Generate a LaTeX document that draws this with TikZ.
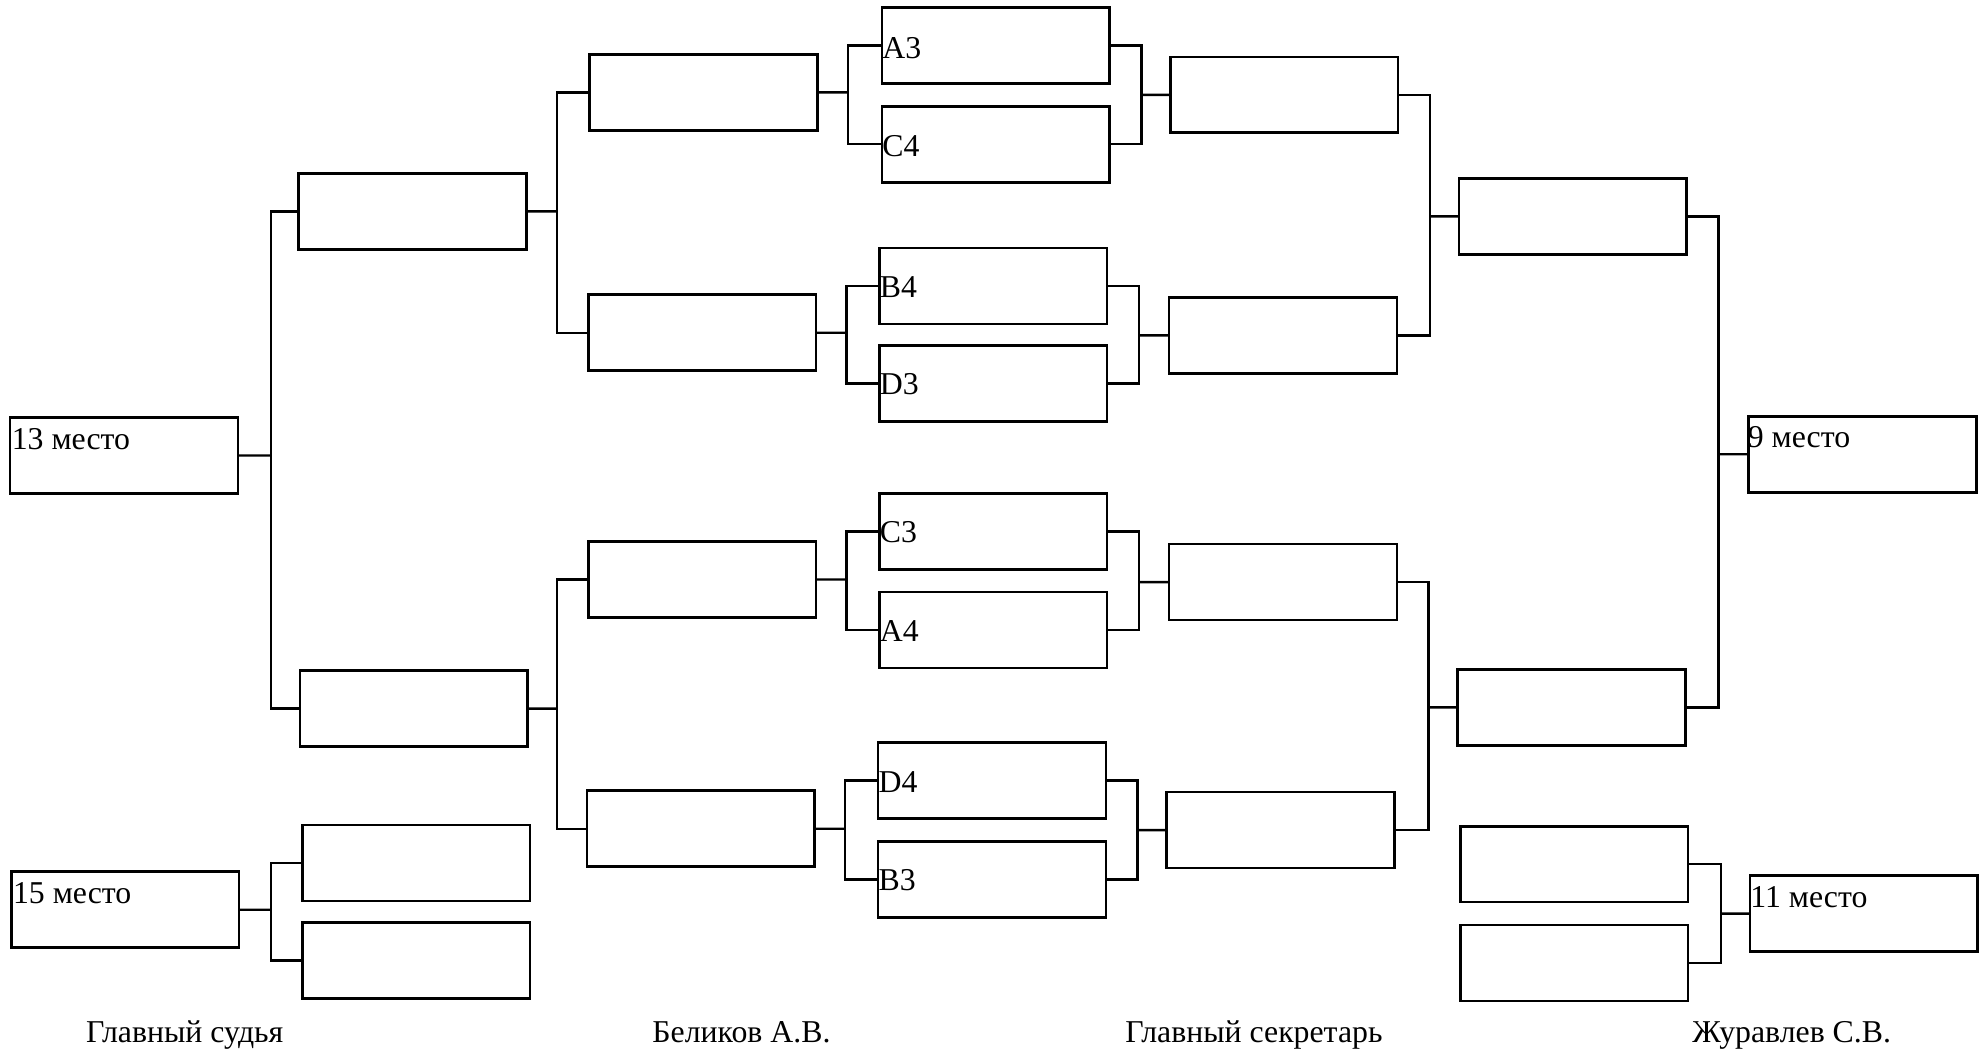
\documentclass[tikz,border=0pt]{standalone}
\usepackage{fontspec}
\setmainfont{Liberation Serif}
\begin{document}
\begin{tikzpicture}[x=0.02cm,y=-0.02cm,
 box/.style={draw,line width=1.2pt,rectangle,inner sep=0pt,outer sep=0pt,minimum width=3.6cm,minimum height=1.2cm,anchor=north west},
 con/.style={line width=1.1pt},
 lbl/.style={font=\fontsize{14.3}{16}\selectfont,inner sep=0pt,anchor=base west},
 sig/.style={font=\fontsize{14.3}{16}\selectfont,inner sep=0pt,anchor=base}]
\useasboundingbox (0,0) rectangle (1568,830);
% boxes
\node[box] (m13) at (8,330) {};
\node[box] (L2a) at (236,137) {};
\node[box] (L2b) at (237,530) {};
\node[box] (L3a) at (466,43) {};
\node[box] (L3b) at (465,233) {};
\node[box] (L3c) at (465,428) {};
\node[box] (L3d) at (464,625) {};
\node[box] (A3) at (697,6) {};
\node[box] (C4) at (697,84) {};
\node[box] (B4) at (695,196) {};
\node[box] (D3) at (695,273) {};
\node[box] (C3) at (695,390) {};
\node[box] (A4) at (695,468) {};
\node[box] (D4) at (694,587) {};
\node[box] (B3) at (694,665) {};
\node[box] (R3a) at (925,45) {};
\node[box] (R3b) at (924,235) {};
\node[box] (R3c) at (924,430) {};
\node[box] (R3d) at (922,626) {};
\node[box] (R2a) at (1153,141) {};
\node[box] (R2b) at (1152,529) {};
\node[box] (m9) at (1382,329) {};
\node[box] (R5a) at (1154,653) {};
\node[box] (R5b) at (1154,731) {};
\node[box] (m11) at (1383,692) {};
\node[box] (m15) at (9,689) {};
\node[box] (L5a) at (239,652) {};
\node[box] (L5b) at (239,729) {};
% labels in boxes
\node[lbl] (t13) at ([shift={(1,25)}]m13.north west) {13 место};
\node[lbl] (t15) at ([shift={(1,25)}]m15.north west) {15 место};
\node[lbl] (t9) at ([shift={(-1,25)}]m9.north west) {9 место};
\node[lbl] (t11) at ([shift={(0,25)}]m11.north west) {11 место};
\node[lbl] (tA3) at ([shift={(0,40)}]A3.north west) {A3};
\node[lbl] (tC4) at ([shift={(0,40)}]C4.north west) {C4};
\node[lbl] (tB4) at ([shift={(0,39)}]B4.north west) {B4};
\node[lbl] (tD3) at ([shift={(0,39)}]D3.north west) {D3};
\node[lbl] (tC3) at ([shift={(0,39)}]C3.north west) {C3};
\node[lbl] (tA4) at ([shift={(0,39)}]A4.north west) {A4};
\node[lbl] (tD4) at ([shift={(0,39)}]D4.north west) {D4};
\node[lbl] (tB3) at ([shift={(0,39)}]B3.north west) {B3};
% signatures
\node[sig] (s1) at (146,824) {Главный судья};
\node[sig] (s2) at (586,824) {Беликов А.В.};
\node[sig] (s3) at (991,824) {Главный секретарь};
\node[sig] (s4) at (1416,824) {Журавлев С.В.};
% junctions
\coordinate (j1) at (214,360);
\coordinate (j2) at (440,167);
\coordinate (j3) at (440,560);
\coordinate (j4) at (670,73);
\coordinate (j5) at (669,263);
\coordinate (j6) at (669,458);
\coordinate (j7) at (668,655);
\coordinate (j8) at (902,75);
\coordinate (j9) at (900,265);
\coordinate (j10) at (900,460);
\coordinate (j11) at (899,656);
\coordinate (j12) at (1130,171);
\coordinate (j13) at (1129,559);
\coordinate (j14) at (1358,359);
\coordinate (j15) at (1360,722);
\coordinate (j16) at (214,719);
% connectors
\draw[con] (L2a.west) -| (j1) |- (L2b.west);
\draw[con] (m13.east) -- (j1);
\draw[con] (L3a.west) -| (j2) |- (L3b.west);
\draw[con] (L2a.east) -- (j2);
\draw[con] (L3c.west) -| (j3) |- (L3d.west);
\draw[con] (L2b.east) -- (j3);
\draw[con] (A3.west) -| (j4) |- (C4.west);
\draw[con] (L3a.east) -- (j4);
\draw[con] (B4.west) -| (j5) |- (D3.west);
\draw[con] (L3b.east) -- (j5);
\draw[con] (C3.west) -| (j6) |- (A4.west);
\draw[con] (L3c.east) -- (j6);
\draw[con] (D4.west) -| (j7) |- (B3.west);
\draw[con] (L3d.east) -- (j7);
\draw[con] (A3.east) -| (j8) |- (C4.east);
\draw[con] (R3a.west) -- (j8);
\draw[con] (B4.east) -| (j9) |- (D3.east);
\draw[con] (R3b.west) -- (j9);
\draw[con] (C3.east) -| (j10) |- (A4.east);
\draw[con] (R3c.west) -- (j10);
\draw[con] (D4.east) -| (j11) |- (B3.east);
\draw[con] (R3d.west) -- (j11);
\draw[con] (R3a.east) -| (j12) |- (R3b.east);
\draw[con] (R2a.west) -- (j12);
\draw[con] (R3c.east) -| (j13) |- (R3d.east);
\draw[con] (R2b.west) -- (j13);
\draw[con] (R2a.east) -| (j14) |- (R2b.east);
\draw[con] (m9.west) -- (j14);
\draw[con] (R5a.east) -| (j15) |- (R5b.east);
\draw[con] (m11.west) -- (j15);
\draw[con] (L5a.west) -| (j16) |- (L5b.west);
\draw[con] (m15.east) -- (j16);
\end{tikzpicture}
\end{document}
